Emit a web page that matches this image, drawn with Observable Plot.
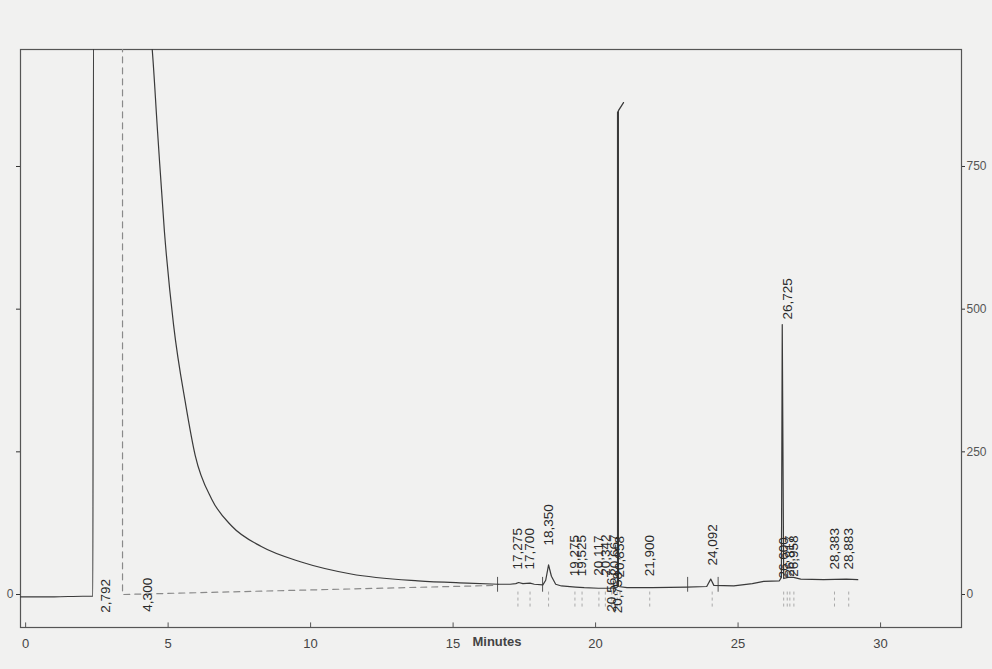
<!DOCTYPE html>
<html>
<head>
<meta charset="utf-8">
<script src="https://cdn.jsdelivr.net/npm/d3@7"></script>
<script src="https://cdn.jsdelivr.net/npm/@observablehq/plot@0.6"></script>
<style>
  html, body { margin: 0; padding: 0; background: #f1f1f0; }
  #chart svg { display: block; }
</style>
</head>
<body>
<div id="chart"></div>
<script>
// Detector trace (time in minutes, signal in mV)
// Part 1: solvent front and its decay
const solventTime = [-0.18, 1.0, 2.0, 2.36, 2.38, 4.35, 4.41, 4.63, 4.87, 5.19, 5.62, 5.95, 6.53, 7.23, 8.27, 9.67, 11.42, 13.77, 15.5, 16.58];
const solventSignal = [-4, -4, -3, -3, 1000, 1000, 974, 811, 636, 473, 332, 244, 167, 120, 84, 57, 36, 24, 20, 18];
// Part 2: analyte region
const peakRegionTime = [16.58, 17.0, 17.2, 17.3, 17.45, 17.7, 17.85, 18.15, 18.25, 18.35, 18.45, 18.6, 18.8, 19.3, 19.6, 20.1, 20.5, 20.74,
  20.77, 20.77, 20.98, 20.80, 20.80, 21.1, 22.0, 23.2, 23.9, 24.04, 24.15, 24.85, 25.5, 25.9, 26.45, 26.52, 26.55, 26.6, 26.75, 26.95, 27.2, 28.0, 28.8, 29.2];
const peakRegionSignal = [18, 18, 19, 21, 19, 20, 18, 17, 25, 52, 32, 18, 15, 13, 12, 11, 11, 12,
  14, 845, 862, 848, 14, 12, 12, 13, 14, 27, 16, 15, 19, 23, 24, 30, 473, 28, 30, 30, 27, 26, 27, 26];

// Integration baseline / event marker (dashed)
const dashTime = [3.4, 3.4, 16.56];
const dashSignal = [1000, 0, 16];

// Peak labels (retention times) and the signal level where each label starts
const peakTimes = [2.792, 4.300, 17.275, 17.700, 18.350, 19.275, 19.525, 20.117, 20.342, 20.567, 20.667, 20.758, 20.858, 21.900, 24.092, 26.600, 26.725, 26.817, 26.958, 28.383, 28.883];
const peakLabels = ["2,792", "4,300", "17,275", "17,700", "18,350", "19,275", "19,525", "20,117", "20,342", "20,567", "20,667", "20,758", "20,858", "21,900", "24,092", "26,600", "26,725", "26,817", "26,958", "28,383", "28,883"];
const peakLabelLevel = [-32, -30, 44, 44, 86, 32, 32, 33, 33, -30, 33, -33, 30, 32, 51, 28, 482, 31, 31, 44, 44];

// Peak boundary markers
const boundaryTimes = [16.56, 18.14, 23.23, 24.3];

// Axes
const xTicks = [0, 5, 10, 15, 20, 25, 30];
const yTicks = [0, 250, 500, 750];
const xDomain = [-0.18, 32.84];
const yDomain = [-57.8, 955];

const solvent = solventTime.map((t, i) => ({t, v: solventSignal[i]}));
const region = peakRegionTime.map((t, i) => ({t, v: peakRegionSignal[i]}));
const dashed = dashTime.map((t, i) => ({t, v: dashSignal[i]}));
const peaks = peakTimes.map((t, i) => ({t, label: peakLabels[i], level: peakLabelLevel[i]}));

const ink = "#3a3a3a";

const chart = Plot.plot({
  width: 992,
  height: 669,
  marginLeft: 20,
  marginRight: 31,
  marginTop: 49,
  marginBottom: 42,
  style: {background: "transparent", fontFamily: "Liberation Sans, Arial, sans-serif", color: "#333"},
  x: {domain: xDomain},
  y: {domain: yDomain},
  marks: [
    Plot.frame({stroke: "#555", strokeWidth: 1.2}),
    // event markers below the peaks
    Plot.ruleX(peakTimes.slice(2), {x: d => d, y1: -22, y2: 8, stroke: "#aaa", strokeDasharray: "3,3"}),
    Plot.ruleX(boundaryTimes, {x: d => d, y1: 4, y2: 30, stroke: "#555"}),
    Plot.line(dashed, {x: "t", y: "v", stroke: "#8a8a8a", strokeWidth: 1.2, strokeDasharray: "6,5", clip: true}),
    Plot.line(solvent, {x: "t", y: "v", stroke: ink, strokeWidth: 1.2, curve: "monotone-x", clip: true}),
    Plot.line(region, {x: "t", y: "v", stroke: ink, strokeWidth: 1.2, clip: true}),
    Plot.text(peaks, {x: "t", y: "level", text: "label", rotate: -90, textAnchor: "start", fontSize: 13.5, fill: "#2a2a2a"}),
    // inward x ticks
    Plot.ruleX(xTicks, {x: d => d, y1: yDomain[0], y2: yDomain[0] + 8, stroke: "#555"}),
    Plot.axisX(xTicks, {tickSize: 0, tickPadding: 11, fontSize: 13, fill: "#444", label: null}),
    Plot.text(["Minutes"], {frameAnchor: "bottom", dx: 6, dy: 18, fontSize: 13, fontWeight: "bold", fill: "#444"}),
    Plot.axisY(yTicks, {anchor: "right", tickSize: 3, tickPadding: 2, fontSize: 12, fill: "#555", label: null}),
    Plot.axisY(yTicks, {anchor: "left", tickSize: 4, tickPadding: 3, fontSize: 12, fill: "#555", label: null, tickFormat: d => d === 0 ? "0" : ""})
  ]
});
document.getElementById("chart").append(chart);
</script>
</body>
</html>
